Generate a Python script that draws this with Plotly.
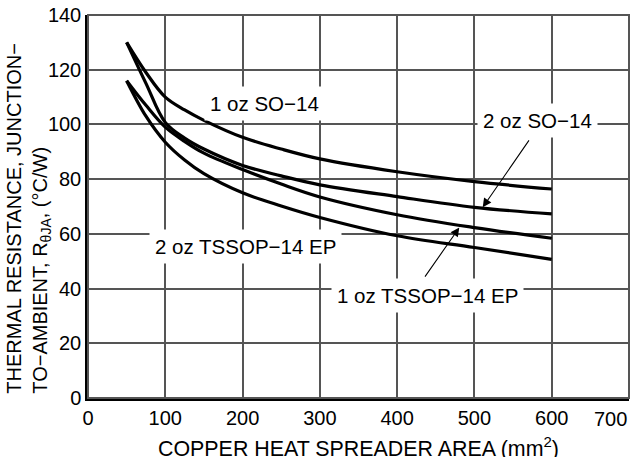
import plotly.graph_objects as go

# copper area (mm^2) and thermal resistance (degC/W)
area = [50, 75, 100, 125, 150, 200, 250, 300, 400, 500, 600]
so14_1oz = [130, 119, 110, 105.3, 101.5, 95.3, 91, 87.4, 82.7, 79.1, 76.4]
so14_2oz = [130, 115, 100.7, 95, 91, 85, 81.2, 77.9, 73.6, 69.7, 67.3]
tssop_1oz = [116, 107, 99, 93.8, 89.5, 83.5, 78.2, 73.5, 67, 62.3, 58.4]
tssop_2oz = [116, 103, 93.5, 87, 82, 75, 70.2, 66, 59.3, 55, 50.7]

x_ticks = [0, 100, 200, 300, 400, 500, 600]
y_ticks = [0, 20, 40, 60, 80, 100, 120, 140]
x_max, y_max = 700, 140

FONT = "Liberation Sans, Arial, sans-serif"

fig = go.Figure()

for name, vals in [("1 oz SO−14", so14_1oz), ("2 oz SO−14", so14_2oz),
                   ("1 oz TSSOP−14 EP", tssop_1oz), ("2 oz TSSOP−14 EP", tssop_2oz)]:
    fig.add_trace(go.Scatter(x=area, y=vals, mode='lines', name=name,
                             line=dict(color='black', width=3.2, shape='spline', smoothing=1)))

# thin top/right frame
fig.add_shape(type='rect', xref='paper', yref='paper', x0=0, y0=0, x1=1, y1=1,
              line=dict(color='#555', width=2))

lbl = dict(showarrow=False, font=dict(family=FONT, size=20.5, color='black'),
           bgcolor='white', borderpad=5)
fig.add_annotation(x=229, y=107.7, text="1 oz SO−14", **lbl)
fig.add_annotation(x=582, y=101.4, text="2 oz SO−14", **lbl)
fig.add_annotation(x=204, y=55.3, text="2 oz TSSOP−14 EP", **lbl)
fig.add_annotation(x=439, y=37.6, text="1 oz TSSOP−14 EP", **lbl)

arr = dict(text="", showarrow=True, axref='x', ayref='y', arrowhead=2,
           arrowsize=1.6, arrowwidth=1.1, arrowcolor='black')
fig.add_annotation(x=510.7, y=69.7, ax=571.9, ay=94.7, **arr)
fig.add_annotation(x=480.4, y=62.3, ax=434.7, ay=43.8, **arr)

# 700 label sits flush with the right edge
fig.add_annotation(x=x_max, y=0, yref='y', text="700", showarrow=False, xanchor='right',
                   yanchor='top', yshift=-8, font=dict(family=FONT, size=20, color='black'))

fig.add_annotation(xref='paper', yref='paper', x=-0.1615, y=0.005, xanchor='left', yanchor='bottom',
                   textangle=-90, align='left', showarrow=False,
                   text="THERMAL RESISTANCE, JUNCTION−<br>TO−AMBIENT, R<sub>θJA</sub>, (°C/W)",
                   font=dict(family=FONT, size=20, color='black'))
fig.add_annotation(xref='paper', yref='paper', x=0.5, y=-0.128, yanchor='middle',
                   showarrow=False, text="COPPER HEAT SPREADER AREA (mm<sup>2</sup>)",
                   font=dict(family=FONT, size=21.4, color='black'))

axis_common = dict(showgrid=True, gridcolor='#555', gridwidth=2, showline=True,
                   linecolor='black', linewidth=2.5, ticks='', zeroline=False,
                   fixedrange=True, tickfont=dict(family=FONT, size=20, color='black'))

fig.update_layout(
    width=632, height=457,
    margin=dict(l=88, r=3, t=15, b=59),
    plot_bgcolor='white', paper_bgcolor='white',
    showlegend=False,
    xaxis=dict(range=[0, x_max], tickvals=x_ticks, **axis_common),
    yaxis=dict(range=[0, y_max], tickvals=y_ticks, **axis_common),
)

fig.write_html("out.html", config={'displayModeBar': False},
               post_script="document.body.style.margin='0px';")
